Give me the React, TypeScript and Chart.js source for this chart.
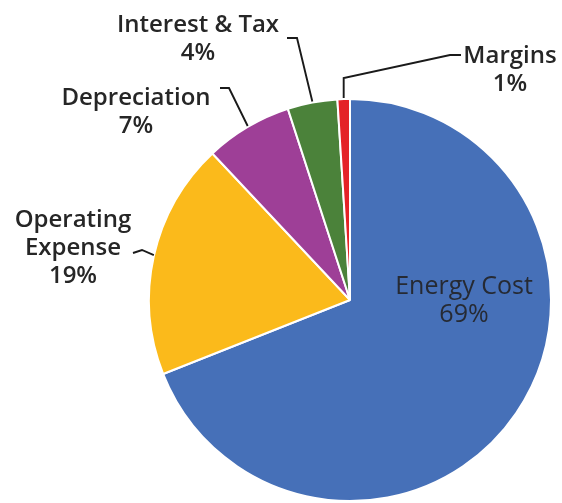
import React, { useEffect, useRef } from "react";
import { Chart, registerables } from "chart.js";

Chart.register(...registerables);

const categories = ["Energy Cost", "Operating Expense", "Depreciation", "Interest & Tax", "Margins"];
const shares = [69, 19, 7, 4, 1];
const sliceColors = ["#4670B8", "#FBBA1B", "#9E3F97", "#4B823A", "#E42227"];

// label text lines (name split + percent)
const labelLines = [
  ["Energy Cost", "69%"],
  ["Operating", "Expense", "19%"],
  ["Depreciation", "7%"],
  ["Interest & Tax", "4%"],
  ["Margins", "1%"],
];

// label placement: text centre x + first baseline y; leader elbows (absolute px); null => inside
const labelPlacement = [
  { x: 464, y: 294, leader: null },
  { x: 73, y: 227, leader: [[142, 250], [133, 253]] },
  { x: 136, y: 105, leader: [[229, 88], [220, 88]] },
  { x: 198, y: 32, leader: [[297, 38], [287, 38]] },
  { x: 510, y: 63, leader: [["v", 78], [450, 55], [461, 55]] },
];

const labelPlugin = {
  id: "pieLabels",
  afterDraw(chart: any) {
    const ctx = chart.ctx;
    const meta = chart.getDatasetMeta(0);
    ctx.save();
    meta.data.forEach((arc: any, i: number) => {
      const p = arc.getProps(["x", "y", "startAngle", "endAngle", "outerRadius"], true);
      const mid = (p.startAngle + p.endAngle) / 2;
      const ax = p.x + Math.cos(mid) * p.outerRadius;
      const ay = p.y + Math.sin(mid) * p.outerRadius;
      const place = labelPlacement[i];
      if (place.leader) {
        ctx.beginPath();
        ctx.strokeStyle = "#1a1a1a";
        ctx.lineWidth = 1.9;
        ctx.lineJoin = "miter";
        ctx.moveTo(ax, ay - 1);
        place.leader.forEach((pt: any) => {
          const px = pt[0] === "v" ? ax : pt[0];
          ctx.lineTo(px, pt[1]);
        });
        ctx.stroke();
      }
      ctx.fillStyle = i === 0 ? "#262a33" : "#262626";
      ctx.font = i === 0 ? "500 25px 'Open Sans'" : "600 24px 'Open Sans'";
      ctx.textAlign = "center";
      ctx.textBaseline = "alphabetic";
      labelLines[i].forEach((line, k) => {
        ctx.fillText(line, place.x, place.y + k * 28);
      });
    });
    ctx.restore();
  },
};

export default function App() {
  const ref = useRef<HTMLCanvasElement | null>(null);
  useEffect(() => {
    if (!ref.current) return;
    const chart = new Chart(ref.current, {
      type: "pie",
      data: {
        labels: categories,
        datasets: [
          {
            data: shares,
            backgroundColor: sliceColors,
            borderColor: "#ffffff",
            borderWidth: 2,
          },
        ],
      },
      options: {
        animation: false,
        responsive: true,
        maintainAspectRatio: false,
        layout: { padding: { left: 148, right: 10, top: 98, bottom: 1 } },
        plugins: { legend: { display: false }, tooltip: { enabled: false } },
      },
      plugins: [labelPlugin],
    });
    return () => chart.destroy();
  }, []);
  return (
    <div style={{ position: "fixed", left: 0, top: 0, width: 562, height: 503, background: "#fff" }}>
      <canvas ref={ref} />
    </div>
  );
}
